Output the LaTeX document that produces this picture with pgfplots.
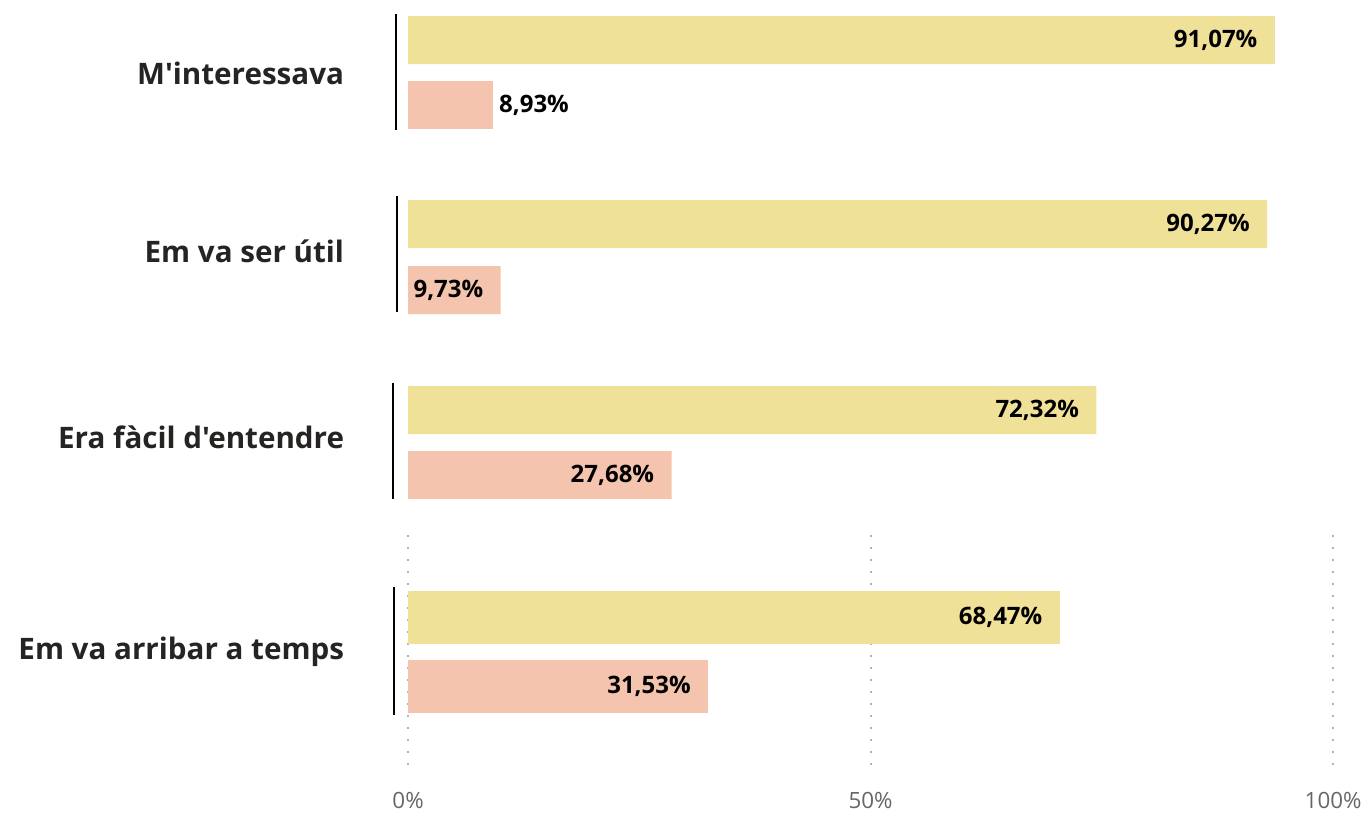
\documentclass[border=0pt]{standalone}
\usepackage{fontspec}
\setmainfont{Open Sans}[Ligatures=TeXOff]
\usepackage{pgfplots}
\pgfplotsset{compat=1.18}
\definecolor{ybarc}{HTML}{F0E199}
\definecolor{pbarc}{HTML}{F4C4AE}
\definecolor{labc}{HTML}{252423}
\definecolor{tickc}{HTML}{666666}
\begin{document}
\begin{tikzpicture}
\begin{axis}[
 scale only axis, width=684.5pt, height=407pt,
 xmin=-42.86, xmax=100.95, ymin=0, ymax=814,
 axis line style={draw=none}, major tick length=0pt,
 xbar, bar shift=0pt, clip=false,
 xtick={0,48.6,97.2}, xticklabels={0\%,50\%,100\%},
 xticklabel style={font=\fontsize{11.2}{13}\selectfont, text=tickc, yshift=14.5pt},
 ytick={162,377,563,741},
 yticklabels={Em va arribar a temps,Era fàcil d'entendre,Em va ser útil,M'interessava},
 yticklabel style={anchor=east, xshift=175.5pt, font=\bfseries\fontsize{14.8}{17}\selectfont, text=labc},
 point meta=x,
 /pgf/number format/assume math mode=true,
 nodes near coords={\pgfmathprintnumber[fixed,fixed zerofill,precision=2,use comma,assume math mode=true]{\pgfplotspointmeta}\%},
 nodes near coords style={font=\bfseries\fontsize{12}{14}\selectfont, text=black, anchor=east, xshift=-5.2pt},
]
% dotted grid (visible only in the lower part)
\foreach \gx in {0,48.6,97.2}{
 \edef\tmp{\noexpand\draw[tickc!50, line width=0.9pt, dash pattern=on 0.9pt off 5.1pt] (axis cs:\gx,279) -- (axis cs:\gx,44);}\tmp
}
% per-group axis lines
\draw[black, line width=1pt] (axis cs:-1.26,800) -- (axis cs:-1.26,684);
\draw[black, line width=1pt] (axis cs:-1.16,618) -- (axis cs:-1.16,502);
\draw[black, line width=1pt] (axis cs:-1.58,431) -- (axis cs:-1.58,315);
\draw[black, line width=1pt] (axis cs:-1.47,227) -- (axis cs:-1.47,99);
% yellow bars, groups 1-3
\addplot[fill=ybarc, draw=none, bar width=24pt] coordinates {(91.07,774) (90.27,590) (72.32,404)};
% pink bars, groups 2-3
\addplot[fill=pbarc, draw=none, bar width=24pt] coordinates {(9.73,524) (27.68,339)};
% pink bar group 1 (label outside)
\addplot[fill=pbarc, draw=none, bar width=24pt, nodes near coords style={anchor=west, xshift=4.7pt}] coordinates {(8.93,709)};
% group 4
\addplot[fill=ybarc, draw=none, bar width=26.5pt] coordinates {(68.47,196.5)};
\addplot[fill=pbarc, draw=none, bar width=26.5pt] coordinates {(31.53,127.5)};
\end{axis}
\end{tikzpicture}
\end{document}
